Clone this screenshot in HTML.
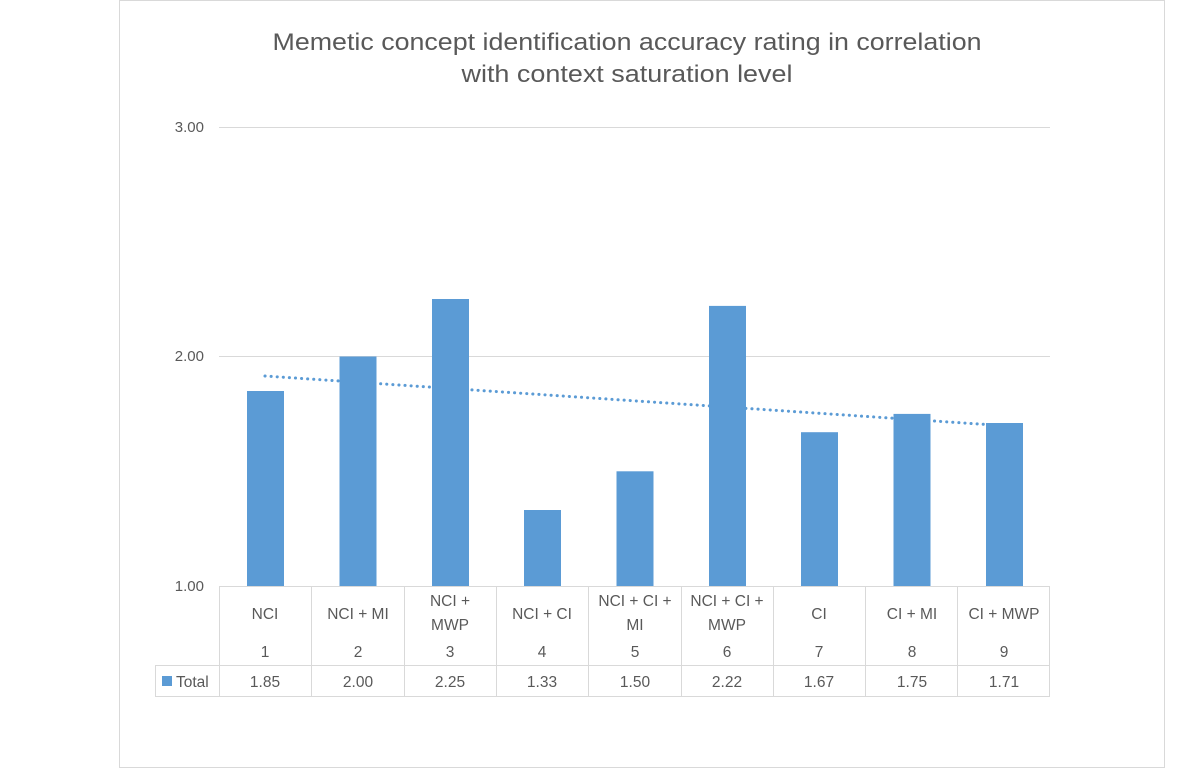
<!DOCTYPE html>
<html><head><meta charset="utf-8"><style>
html,body{margin:0;padding:0;background:#fff;}
svg{display:block;font-family:"Liberation Sans",sans-serif;}
</style></head><body>
<svg width="1200" height="770" viewBox="0 0 1200 770" xmlns="http://www.w3.org/2000/svg">
<rect x="119.5" y="0.5" width="1045" height="767" fill="#fff" stroke="#d9d9d9"/>
<text x="627" y="50" text-anchor="middle" font-size="24" fill="#595959" textLength="709" lengthAdjust="spacingAndGlyphs">Memetic concept identification accuracy rating in correlation</text>
<text x="627" y="82" text-anchor="middle" font-size="24" fill="#595959" textLength="331" lengthAdjust="spacingAndGlyphs">with context saturation level</text>
<g stroke="#d9d9d9" stroke-width="1">
<line x1="219" y1="127.5" x2="1050" y2="127.5"/>
<line x1="219" y1="356.5" x2="1050" y2="356.5"/>
</g>
<g font-size="15" fill="#595959" text-anchor="end">
<text x="204" y="132">3.00</text>
<text x="204" y="361">2.00</text>
<text x="204" y="591">1.00</text>
</g>
<line x1="265" y1="376" x2="1004" y2="425.7" stroke="#5b9bd5" stroke-width="3" stroke-dasharray="0.1 6" stroke-linecap="round"/>
<g fill="#5b9bd5">
<rect x="247" y="391" width="37" height="195"/>
<rect x="339.5" y="356.5" width="37" height="229.5"/>
<rect x="432" y="299" width="37" height="287"/>
<rect x="524" y="510" width="37" height="76"/>
<rect x="616.5" y="471.3" width="37" height="114.7"/>
<rect x="709" y="305.9" width="37" height="280.1"/>
<rect x="801" y="432.2" width="37" height="153.8"/>
<rect x="893.5" y="413.9" width="37" height="172.1"/>
<rect x="986" y="423" width="37" height="163"/>
</g>
<g stroke="#d9d9d9" stroke-width="1" fill="none">
<line x1="219" y1="586.5" x2="1050" y2="586.5"/>
<line x1="155" y1="665.5" x2="1050" y2="665.5"/>
<line x1="155" y1="696.5" x2="1050" y2="696.5"/>
<line x1="155.5" y1="665" x2="155.5" y2="697"/>
<line x1="219.5" y1="586" x2="219.5" y2="697"/>
<line x1="311.5" y1="586" x2="311.5" y2="697"/>
<line x1="404.5" y1="586" x2="404.5" y2="697"/>
<line x1="496.5" y1="586" x2="496.5" y2="697"/>
<line x1="588.5" y1="586" x2="588.5" y2="697"/>
<line x1="681.5" y1="586" x2="681.5" y2="697"/>
<line x1="773.5" y1="586" x2="773.5" y2="697"/>
<line x1="865.5" y1="586" x2="865.5" y2="697"/>
<line x1="957.5" y1="586" x2="957.5" y2="697"/>
<line x1="1049.5" y1="586" x2="1049.5" y2="697"/>
</g>
<g font-size="15.5" fill="#595959" text-anchor="middle">
<text x="265" y="619">NCI</text>
<text x="358" y="619">NCI + MI</text>
<text x="450" y="606">NCI +</text><text x="450" y="630">MWP</text>
<text x="542" y="619">NCI + CI</text>
<text x="635" y="606">NCI + CI +</text><text x="635" y="630">MI</text>
<text x="727" y="606">NCI + CI +</text><text x="727" y="630">MWP</text>
<text x="819" y="619">CI</text>
<text x="912" y="619">CI + MI</text>
<text x="1004" y="619">CI + MWP</text>
<text x="265" y="657">1</text><text x="358" y="657">2</text><text x="450" y="657">3</text>
<text x="542" y="657">4</text><text x="635" y="657">5</text><text x="727" y="657">6</text>
<text x="819" y="657">7</text><text x="912" y="657">8</text><text x="1004" y="657">9</text>
<text x="265" y="687">1.85</text><text x="358" y="687">2.00</text><text x="450" y="687">2.25</text>
<text x="542" y="687">1.33</text><text x="635" y="687">1.50</text><text x="727" y="687">2.22</text>
<text x="819" y="687">1.67</text><text x="912" y="687">1.75</text><text x="1004" y="687">1.71</text>
</g>
<rect x="162" y="676" width="10" height="10" fill="#5b9bd5"/>
<text x="176" y="687" font-size="15.5" fill="#595959">Total</text>
</svg>
</body></html>
